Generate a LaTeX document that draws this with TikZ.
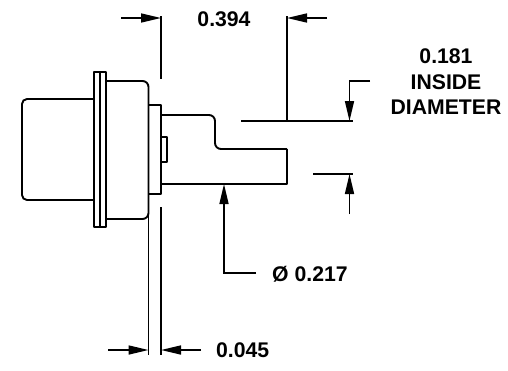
\documentclass[tikz,border=0pt]{standalone}
\usepackage{fontspec}
\setmainfont{Liberation Sans}
\usetikzlibrary{arrows.meta}

\begin{document}
\begin{tikzpicture}[x=1pt, y=-1pt, >={Stealth[length=20pt, width=9pt, inset=0pt]},
every node/.style={align=center, inner sep=0pt, font=\fontsize{21.2}{24}\selectfont\bfseries},
part/.style={line width=1.9pt, line join=round},
dimline/.style={line width=1.6pt}]

  \useasboundingbox (0,0) rectangle (508,370);

  % Connector body
  \draw[part, rounded corners=5pt] (94,99) -- (22,99) -- (22,200) -- (94,200);
  \draw[part] (94,72) rectangle (106,227);
  \draw[part] (100,72) -- (100,227);
  \draw[part, rounded corners=6pt] (106,81) -- (148.5,81) -- (148.5,219) -- (106,219);
  \draw[part] (148.5,105) -- (161,105) -- (161,194) -- (148.5,194);
  \draw[part] (161,137) -- (167,137) -- (167,162) -- (161,162);

  % Tube
  \draw[part, rounded corners=6pt] (161,115) -- (215,115) -- (215,149) -- (287,149);
  \draw[part] (287,149) -- (287,184) -- (161,184);

  % Extension lines
  \coordinate (topA) at (161,16);
  \coordinate (topAend) at (161,79);
  \coordinate (topB) at (287,16);
  \coordinate (topBend) at (287,121);
  \coordinate (boreL) at (241,121);
  \coordinate (boreR) at (353,121);
  \coordinate (wallL) at (313,174);
  \coordinate (wallR) at (353,174);
  \coordinate (flangeA) at (148.5,215);
  \coordinate (flangeAend) at (148.5,355);
  \coordinate (flangeB) at (161,207);
  \coordinate (flangeBend) at (161,355);

  \draw[dimline] (topA) -- (topAend);
  \draw[dimline] (topB) -- (topBend);
  \draw[dimline] (boreL) -- (boreR);
  \draw[dimline] (wallL) -- (wallR);
  \draw[dimline] (flangeA) -- (flangeAend);
  \draw[dimline] (flangeB) -- (flangeBend);

  % Labels
  \node (len) at (224,19) {0.394};
  \node (bore) at (446,82) {0.181\\[1.5pt]INSIDE\\[1.5pt]DIAMETER};
  \node[anchor=west] (dia) at (272,274) {Ø 0.217};
  \node[anchor=west] (gap) at (216,350) {0.045};

  % Dimension arrows
  \coordinate (lenL) at (121,18);
  \coordinate (lenLtip) at (161,18);
  \coordinate (lenR) at (327,18);
  \coordinate (lenRtip) at (287,18);
  \coordinate (boreFree) at (370,81);
  \coordinate (boreBend) at (349.5,81);
  \coordinate (boreTip) at (349.5,121);
  \coordinate (wallFree) at (349.5,214);
  \coordinate (wallTip) at (349.5,174);
  \coordinate (diaFree) at (256,273);
  \coordinate (diaBend) at (224,273);
  \coordinate (diaTip) at (224,184);
  \coordinate (gapL) at (108,350);
  \coordinate (gapLtip) at (148.5,350);
  \coordinate (gapR) at (201,350);
  \coordinate (gapRtip) at (161,350);

  \draw[->, dimline] (lenL) -- (lenLtip);
  \draw[->, dimline] (lenR) -- (lenRtip);
  \draw[->, dimline] (boreFree) -- (boreBend) -- (boreTip);
  \draw[->, dimline] (wallFree) -- (wallTip);
  \draw[->, dimline] (diaFree) -- (diaBend) -- (diaTip);
  \draw[->, dimline] (gapL) -- (gapLtip);
  \draw[->, dimline] (gapR) -- (gapRtip);

\end{tikzpicture}
\end{document}
